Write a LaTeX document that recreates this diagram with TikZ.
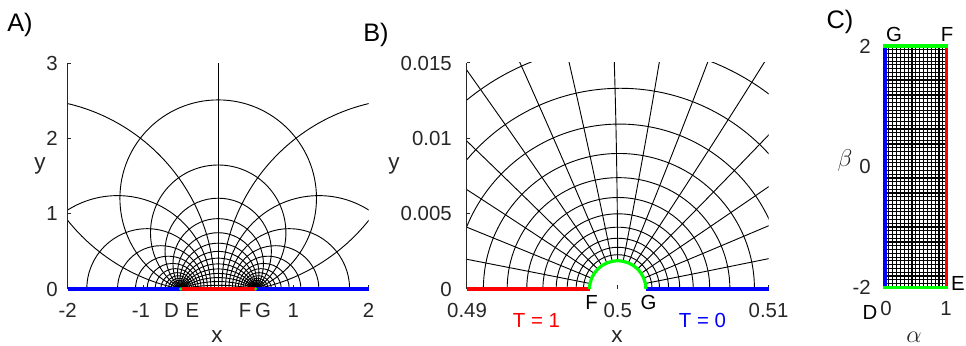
\documentclass[tikz,border=0pt]{standalone}
\usepackage{fontspec}
\setmainfont{Liberation Sans}
\usetikzlibrary{positioning}
\definecolor{axgray}{RGB}{38,38,38}
\definecolor{mblue}{RGB}{0,0,255}
\definecolor{mred}{RGB}{255,0,0}
\definecolor{mgreen}{RGB}{0,255,0}

\begin{document}
\begin{tikzpicture}[x=0.025cm,y=0.025cm,
    gridline/.style={black,line width=0.65pt},
    axisline/.style={axgray,line width=0.65pt},
    edge/.style={line width=2.3pt},
    tick/.style={font=\fontsize{14.5}{17}\selectfont,text=axgray,inner sep=0pt},
    corner/.style={tick,text=black},
    axlabel/.style={font=\fontsize{16}{19}\selectfont,text=axgray,inner sep=0pt},
    panel/.style={font=\fontsize{18}{21}\selectfont,inner sep=0pt},
]
\useasboundingbox (0,0) rectangle (966,346);

% A) whole half plane, two families of circles
\begin{scope}[shift={(218.2,57)},x=1.88cm,y=1.88cm]
  \begin{scope}
    \clip (-2,0) rectangle (2,3);
    \foreach \k in {1,...,32}{
      \pgfmathsetmacro\cen{0.5*cosh(pi*\k/16)/sinh(pi*\k/16)}
      \pgfmathsetmacro\rad{0.5/sinh(pi*\k/16)}
      \draw[gridline] (\cen,0) circle (\rad) (-\cen,0) circle (\rad);
    }
    \foreach \k in {1,...,15}{
      \pgfmathsetmacro\cen{0.5*cot(180*\k/16)}
      \pgfmathsetmacro\rad{0.5/sin(180*\k/16)}
      \draw[gridline] (0,\cen) circle (\rad);
    }
    \draw[gridline] (0,0) -- (0,3);
  \end{scope}
  \draw[axisline] (-2,0) -- (-2,3);
  \foreach \v in {0,...,3} \draw[axisline] (-2,\v) -- ++(2.5pt,0);
  \foreach \u in {-2,...,2} \draw[axisline] (\u,0) -- ++(0,2.5pt);
  \draw[edge,mblue] (-2,0) -- (-0.5,0) (0.5,0) -- (2,0);
  \draw[edge,mred] (-0.5,0) -- (0.5,0);
  \fill[mgreen] (-0.5,0) circle[radius=1.2pt] (0.5,0) circle[radius=1.2pt];
\end{scope}

% B) close-up round the focus at x = 0.5 (units of 0.001)
\begin{scope}[shift={(617.7,57)},x=0.377cm,y=0.377cm]
  \begin{scope}
    \clip (-10,0) rectangle (10,15);
    \foreach \k in {20,...,31}{
      \pgfmathsetmacro\cen{500*exp(-pi*\k/16)/sinh(pi*\k/16)}
      \pgfmathsetmacro\rad{500/sinh(pi*\k/16)}
      \draw[gridline] (\cen,0) circle (\rad);
    }
    \foreach \k in {1,...,15}{
      \pgfmathsetmacro\sig{180*\k/16}
      \draw[gridline] plot[domain=3.4:6.2832,samples=30,variable=\t]
        ({500*(cos(\sig)-exp(-\t))/(cosh(\t)-cos(\sig))},{500*sin(\sig)/(cosh(\t)-cos(\sig))});
    }
  \end{scope}
  \draw[axisline] (-10,0) -- (-10,15);
  \foreach \v in {0,5,10,15} \draw[axisline] (-10,\v) -- ++(2.5pt,0);
  \foreach \u in {-10,0,10} \draw[axisline] (\u,0) -- ++(0,2.5pt);
  \draw[edge,mred] (-10,0) -- (-1.87,0);
  \draw[edge,mblue] (1.87,0) -- (10,0);
  \draw[edge,mgreen] (1.87,0) arc[start angle=0,end angle=180,radius=1.87];
\end{scope}

% C) the rectangle in (alpha, beta)
\begin{scope}[shift={(885,179.35)},x=1.5425cm,y=1.5075cm]
  \draw[gridline,line width=0.8pt] (0,-2) grid[step=0.0625] (1,2);
  \draw[edge,mblue] (0,-2) -- (0,2);
  \draw[edge,mred] (1,-2) -- (1,2);
  \draw[edge,mgreen,line cap=rect] (0,2) -- (1,2) (0,-2) -- (1,-2);
\end{scope}

% labels A
\node[panel] (labA) at (20,321) {A)};
\foreach \v/\ty in {0/57,1/132.2,2/207.4,3/282.6}
  \node[tick,anchor=east] (ay\v) at (58,\ty) {\v};
\foreach \nm/\tx/\tt in {m2/67.7/-2,m1/141/-1,p1/293.4/1,p2/368.6/2}
  \node[tick] (ax\nm) at (\tx,36) {\tt};
\node[tick] (ptD) at (171.5,36) {D};
\node[tick] (ptE) at (192.5,36) {E};
\node[tick] (ptF) at (245,36) {F};
\node[tick] (ptG) at (263,36) {G};
\node[axlabel] (xA) at (217,9) {x};
\node[axlabel] (yA) at (40,180) {y};

% labels B
\node[panel] (labB) at (376,311) {B)};
\foreach \nm/\ty/\tt in {a/57/0,b/132.2/0.005,c/207.4/0.01,d/282.6/0.015}
  \node[tick,anchor=east] (by\nm) at (452,\ty) {\tt};
\foreach \nm/\tx/\tt in {a/467/0.49,b/617.7/0.5,c/768.5/0.51}
  \node[tick] (bx\nm) at (\tx,36) {\tt};
\node[corner] (ptFb) at (591.5,44) {F};
\node[corner] (ptGb) at (648.5,44) {G};
\node[tick,text=mred] (hot) at (536.5,26) {T = 1};
\node[tick,text=mblue] (cold) at (702.5,26) {T = 0};
\node[axlabel] (xB) at (617,9) {x};
\node[axlabel] (yB) at (394,180) {y};

% labels C
\node[panel] (labC) at (840,324) {C)};
\foreach \nm/\ty/\tt in {a/58.7/-2,b/179.35/0,c/300/2}
  \node[tick,anchor=east] (cy\nm) at (871,\ty) {\tt};
\node[tick] (cx0) at (886,38) {0};
\node[tick] (cx1) at (946,38) {1};
\node[corner] (ptDc) at (870,33.5) {D};
\node[corner] (ptEc) at (958,63) {E};
\node[corner] (ptFc) at (947,311.5) {F};
\node[corner] (ptGc) at (894,311.5) {G};
\node[axlabel] (alph) at (914,9) {$\alpha$};
\node[axlabel] (bet) at (845,186) {$\beta$};
\end{tikzpicture}
\end{document}
